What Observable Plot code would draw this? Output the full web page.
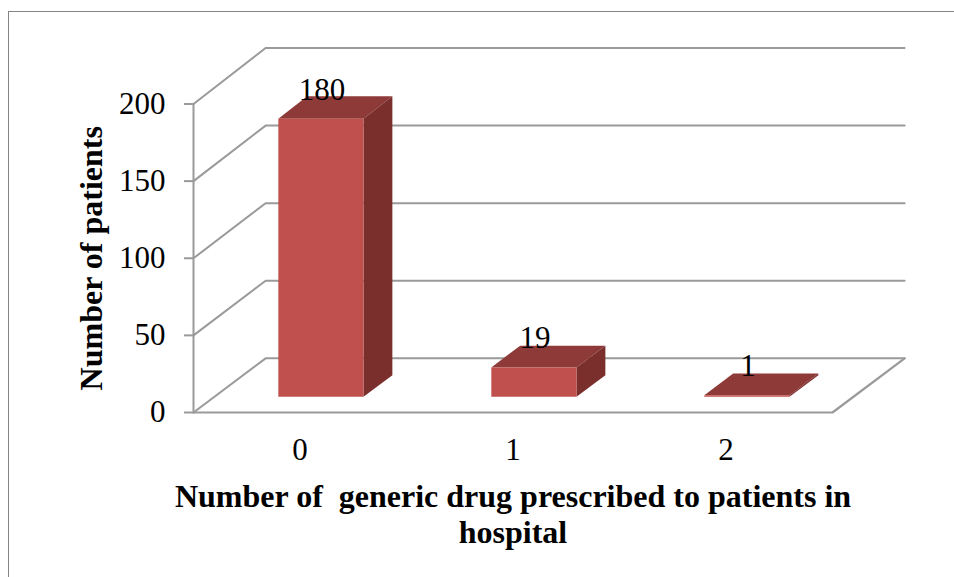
<!DOCTYPE html>
<html>
<head>
<meta charset="utf-8">
<script src="https://cdn.jsdelivr.net/npm/d3@7"></script>
<script src="https://cdn.jsdelivr.net/npm/@observablehq/plot@0.6"></script>
<style>
html,body{margin:0;padding:0;background:#fff;overflow:hidden}
#chart{position:relative;width:954px;height:577px}
#chart svg{display:block}
#border{position:absolute;left:8.4px;top:11px;right:0;bottom:0;border-left:1.5px solid #858585;border-top:1.5px solid #858585;pointer-events:none}
</style>
</head>
<body>
<div id="chart"><div id="border"></div></div>
<script>
const categories = [0, 1, 2];
const patients = [180, 19, 1];
const yTicks = [0, 50, 100, 150, 200];
const xTitle = "Number of  generic drug prescribed to patients in";
const xTitle2 = "hospital";
const yTitle = "Number of patients";

// oblique projection of the pseudo-3D chart box, in data units
const depthX = 0.3386, depthY = 35.1;   // shift of the back wall
const depthGrow = 0.006;                // slight perspective towards the back wall
const barFront = 0.29, barBack = 0.69;  // bar depth inside the box
const barHalf = 0.2;                    // half of the bar width
const xMin = -0.5, xMax = 2.5;
const pt = (c, v, d) => ({x: c + d * depthX, y: v * (1 + d * depthGrow) + d * depthY});

const grid = yTicks.flatMap(v => [pt(xMin, v, 0), pt(xMin, v, 1), pt(xMax, v, 1)].map(p => ({...p, key: v})));
const floorEdge = [pt(xMax, 0, 1), pt(xMax, 0, 0), pt(xMin, 0, 0)];
const wallEdge = [pt(xMin, 0, 0), pt(xMin, 200, 0)];

const faces = categories.flatMap((c, i) => {
  const v = patients[i], l = c - barHalf, r = c + barHalf;
  return [
    {face: "top", fill: "#8e3a38", pts: [pt(l, v, barFront), pt(r, v, barFront), pt(r, v, barBack), pt(l, v, barBack)]},
    {face: "side", fill: "#7a2f2d", pts: [pt(r, 0, barFront), pt(r, v, barFront), pt(r, v, barBack), pt(r, 0, barBack)]},
    {face: "front", fill: "#c0504d", pts: [pt(l, 0, barFront), pt(r, 0, barFront), pt(r, v, barFront), pt(l, v, barFront)]}
  ].map(f => f.pts.map(p => ({...p, key: c + f.face, fill: f.fill})));
}).flat();

const labels = categories.map((c, i) => ({...pt(c, patients[i], barFront), text: String(patients[i])}));

const plot = Plot.plot({
  width: 954, height: 577,
  marginLeft: 193, marginRight: 122, marginTop: 103.5, marginBottom: 165,
  style: {fontFamily: "'Liberation Serif', serif", fontSize: "31px", background: "transparent", color: "#000"},
  x: {domain: [xMin, xMax], axis: null},
  y: {domain: [0, 200], axis: null},
  marks: [
    Plot.line(grid, {x: "x", y: "y", z: "key", stroke: "#9a9a9a", strokeWidth: 2, curve: "linear"}),
    Plot.line(floorEdge, {x: "x", y: "y", stroke: "#9a9a9a", strokeWidth: 2.2}),
    Plot.line(wallEdge, {x: "x", y: "y", stroke: "#9a9a9a", strokeWidth: 2}),
    Plot.axisY(yTicks, {anchor: "left", tickSize: 9, tickPadding: 19, stroke: "#9a9a9a", strokeWidth: 2, fill: "#000", fontSize: 31, label: null, tickFormat: d => String(d)}),
    Plot.axisX(categories, {anchor: "bottom", tickSize: 0, tickPadding: 25, fill: "#000", fontSize: 31, label: null, tickFormat: d => String(d)}),
    Plot.line(faces, {x: "x", y: "y", z: "key", fill: "fill", stroke: "none"}),
    Plot.text(labels, {x: "x", y: "y", text: "text", dx: 1, dy: -29, fontSize: 31, fill: "#000", lineAnchor: "middle"}),
    Plot.text([xTitle], {x: 1, frameAnchor: "bottom", dy: 84, fontSize: 32, fontWeight: "bold", fill: "#000", lineAnchor: "middle"}),
    Plot.text([xTitle2], {x: 1, frameAnchor: "bottom", dy: 120, fontSize: 32, fontWeight: "bold", fill: "#000", lineAnchor: "middle"}),
    Plot.text([yTitle], {frameAnchor: "left", dx: -102, rotate: -90, textAnchor: "middle", fontSize: 32, fontWeight: "bold", fill: "#000", lineAnchor: "middle"})
  ]
});
document.getElementById("chart").prepend(plot);
</script>
</body>
</html>
